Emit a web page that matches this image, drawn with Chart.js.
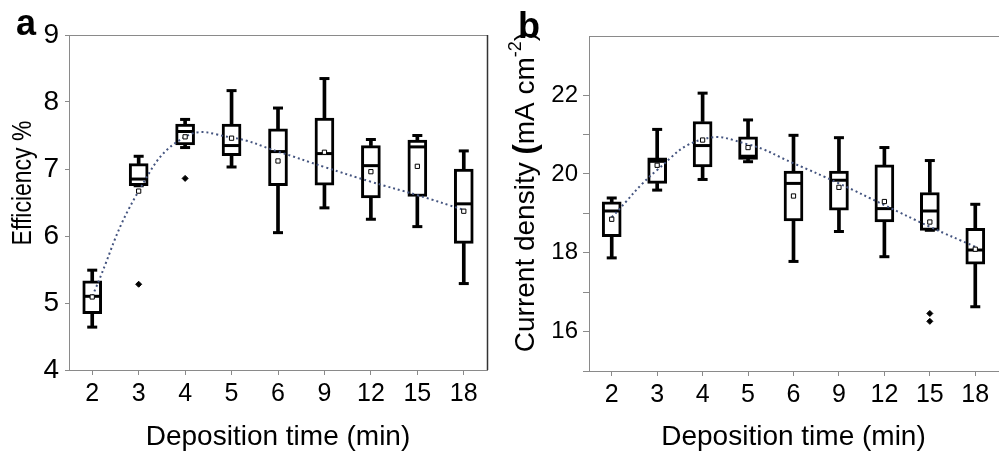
<!DOCTYPE html>
<html><head><meta charset="utf-8">
<script src="https://cdn.jsdelivr.net/npm/chart.js@4/dist/chart.umd.min.js"></script>
<style>
html,body{margin:0;padding:0;background:#fff;overflow:hidden;width:1006px;height:457px;}
#wa{position:absolute;left:0;top:0;width:500px;height:457px;}
#wb{position:absolute;left:500px;top:0;width:510px;height:457px;}
canvas{display:block;}
</style></head><body>
<div id="wa"><canvas id="ca" width="500" height="457"></canvas></div>
<div id="wb"><canvas id="cb" width="510" height="457"></canvas></div>
<script>
// ---------- data ----------
const categories = ['2','3','4','5','6','9','12','15','18'];

// panel a: efficiency (%)
const effMin    = [4.64, 6.75, 7.32, 7.03, 6.05, 6.42, 6.25, 6.14, 5.29];
const effQ1     = [4.84, 6.75, 7.36, 7.20, 6.75, 6.76, 6.57, 6.59, 5.89];
const effMedian = [5.10, 6.85, 7.56, 7.35, 7.26, 7.23, 7.05, 7.33, 6.48];
const effQ3     = [5.33, 7.08, 7.67, 7.67, 7.60, 7.76, 7.35, 7.43, 7.00];
const effMax    = [5.49, 7.19, 7.74, 8.17, 7.91, 8.35, 7.44, 7.50, 7.27];
const effMean   = [5.09, 6.67, 7.48, 7.46, 7.12, 7.25, 6.96, 7.04, 6.37];
const effOutlierCat = ['3', '4'];
const effOutlierVal = [5.28, 6.86];
const effFit    = [5.10, 6.67, 7.48, 7.47, 7.26, 7.03, 6.81, 6.61, 6.39];
const effTicks  = [4, 5, 6, 7, 8, 9];

// panel b: current density (mA cm-2)
const jscMin    = [17.87, 19.59, 19.86, 20.31, 17.78, 18.54, 17.90, 18.57, 16.63];
const jscQ1     = [18.41, 19.76, 20.18, 20.37, 18.81, 19.08, 18.78, 18.57, 17.71];
const jscMedian = [19.06, 20.32, 20.72, 20.45, 19.76, 19.84, 19.12, 19.06, 18.07];
const jscQ3     = [19.29, 20.41, 21.33, 20.94, 20.07, 20.07, 20.23, 19.53, 18.62];
const jscMax    = [19.39, 21.13, 22.05, 21.37, 20.98, 20.92, 20.67, 20.34, 19.23];
const jscMean   = [18.85, 20.22, 20.86, 20.67, 19.44, 19.66, 19.30, 18.78, 18.09];
const jscOutlierCat = ['15', '15'];
const jscOutlierVal = [16.46, 16.26];
const jscFit    = [18.90, 20.10, 20.88, 20.75, 20.27, 19.76, 19.21, 18.66, 18.15];
const jscTicks  = [16, 18, 20, 22];

// ---------- drawing ----------
const FONT = '"Liberation Sans", Arial, sans-serif';
const AXIS = '#8a8a8a';

const decor = {
  id: 'decor',
  afterDraw(chart, args, o) {
    const ctx = chart.ctx, a = chart.chartArea;
    ctx.save();
    ctx.lineWidth = 1;
    ctx.strokeStyle = AXIS;
    ctx.beginPath(); ctx.moveTo(a.left, a.top + 0.5); ctx.lineTo(a.right + 1, a.top + 0.5); ctx.stroke();
    if (o.rightColor) {
      ctx.strokeStyle = o.rightColor; ctx.lineWidth = 1.5;
      ctx.beginPath(); ctx.moveTo(a.right + 0.5, a.top); ctx.lineTo(a.right + 0.5, a.bottom); ctx.stroke();
    }
    ctx.fillStyle = '#000';
    ctx.font = 'bold 36px ' + FONT;
    ctx.textAlign = 'left'; ctx.textBaseline = 'alphabetic';
    ctx.fillText(o.letter, o.lx, o.ly);
    ctx.font = o.xFont;
    ctx.textAlign = 'center'; ctx.textBaseline = 'middle';
    ctx.fillText(o.xTitle, (a.left + a.right) / 2, o.xTitleY);
    // y title (segments)
    ctx.translate(o.yx, o.yy);
    ctx.rotate(-Math.PI / 2);
    ctx.scale(1, o.yStretch || 1);
    ctx.textAlign = 'left'; ctx.textBaseline = 'middle';
    let total = 0;
    o.ySegs.forEach(s => { ctx.font = s.f; total += ctx.measureText(s.t).width; });
    let x = -total / 2;
    o.ySegs.forEach(s => { ctx.font = s.f; ctx.fillText(s.t, x, s.dy || 0); x += ctx.measureText(s.t).width; });
    ctx.restore();
  }
};

function buildPanel(canvasId, p) {
  const boxData = categories.map((c, i) => [p.q1[i], p.q3[i]]);
  const lowW = categories.map((c, i) => [p.min[i], p.q1[i]]);
  const highW = categories.map((c, i) => [p.q3[i], p.max[i]]);
  const outliers = p.outCat.map((c, i) => ({ x: c, y: p.outVal[i] }));
  const pt = (data, style, r, extra) => Object.assign({
    type: 'line', data, showLine: false, pointStyle: style, pointRadius: r,
    pointBorderColor: '#000', pointBackgroundColor: '#000', pointBorderWidth: 3, clip: false
  }, extra || {});
  return new Chart(document.getElementById(canvasId), {
    type: 'bar',
    data: {
      labels: categories,
      datasets: [
        pt(p.mean, 'rect', 3, { pointBackgroundColor: '#fff', pointBorderWidth: 1, order: 0 }),
        pt(outliers, 'rectRot', 3, { pointBorderWidth: 1, order: 0 }),
        { type: 'line', data: p.fit, borderColor: '#44547f', borderWidth: 2, borderDash: [2, 3],
          tension: 0.45, pointRadius: 0, fill: false, order: 1 },
        pt(p.median, 'line', 9, { order: 2 }),
        pt(p.min, 'line', 5, { order: 3 }),
        pt(p.max, 'line', 5, { order: 3 }),
        { data: boxData, backgroundColor: '#fff', borderColor: '#000', borderWidth: 3,
          borderSkipped: false, barThickness: 19, grouped: false, order: 4 },
        { data: lowW, backgroundColor: '#000', borderWidth: 0, barThickness: 3, grouped: false, order: 5 },
        { data: highW, backgroundColor: '#000', borderWidth: 0, barThickness: 3, grouped: false, order: 5 }
      ]
    },
    options: {
      responsive: false, animation: false, events: [],
      layout: { padding: p.padding },
      plugins: { legend: { display: false }, tooltip: { enabled: false }, decor: p.decor },
      scales: {
        x: {
          offset: true,
          grid: { drawOnChartArea: false, offset: false, tickLength: 5, color: AXIS },
          border: { color: AXIS, width: 1 },
          ticks: { color: '#000', font: { family: FONT, size: 25 }, padding: 4, maxRotation: 0, autoSkip: false },
          afterFit: s => { s.height = p.xHeight; }
        },
        y: {
          min: p.yMin, max: p.yMax,
          grid: { drawOnChartArea: false, tickLength: p.tickLen, color: AXIS },
          border: { color: AXIS, width: 1 },
          ticks: {
            stepSize: p.step, color: '#000', font: { family: FONT, size: p.yFont }, padding: p.yPad,
            callback: v => p.ticks.includes(v) ? String(v) : ''
          },
          afterBuildTicks: s => { s.ticks = s.ticks.filter(t => Math.abs(t.value / p.step - Math.round(t.value / p.step)) < 1e-6); },
          afterFit: s => { s.width = p.yWidth; }
        }
      }
    },
    plugins: [decor]
  });
}

buildPanel('ca', {
  min: effMin, q1: effQ1, median: effMedian, q3: effQ3, max: effMax, mean: effMean,
  outCat: effOutlierCat, outVal: effOutlierVal, fit: effFit, ticks: effTicks,
  yMin: 4, yMax: 9, step: 0.5, yFont: 28, yPad: 6, tickLen: 4,
  yWidth: 69, xHeight: 87, padding: { left: 0, right: 13, top: 35, bottom: 0 },
  decor: {
    letter: 'a', lx: 16, ly: 35, xTitle: 'Deposition time (min)', xTitleY: 437,
    xFont: '28px ' + FONT, rightColor: '#333', yx: 23, yy: 183, yStretch: 1.2,
    ySegs: [{ t: 'Efficiency %', f: '23px ' + FONT }]
  }
});

buildPanel('cb', {
  min: jscMin, q1: jscQ1, median: jscMedian, q3: jscQ3, max: jscMax, mean: jscMean,
  outCat: jscOutlierCat, outVal: jscOutlierVal, fit: jscFit, ticks: jscTicks,
  yMin: 15, yMax: 23.5, step: 1, yFont: 24, yPad: 5, tickLen: 6,
  yWidth: 89, xHeight: 86, padding: { left: 0, right: 3, top: 36, bottom: 0 },
  decor: {
    letter: 'b', lx: 18, ly: 38, xTitle: 'Deposition time (min)', xTitleY: 437,
    xFont: '28px ' + FONT, rightColor: null, yx: 26, yy: 192, yStretch: 1,
    ySegs: [
      { t: 'Current density ', f: '28px ' + FONT },
      { t: '(', f: 'bold 31px ' + FONT },
      { t: 'mA cm', f: '28px ' + FONT },
      { t: '-2', f: '18px ' + FONT, dy: -10 },
      { t: ')', f: '28px ' + FONT }
    ]
  }
});
</script>
</body></html>
